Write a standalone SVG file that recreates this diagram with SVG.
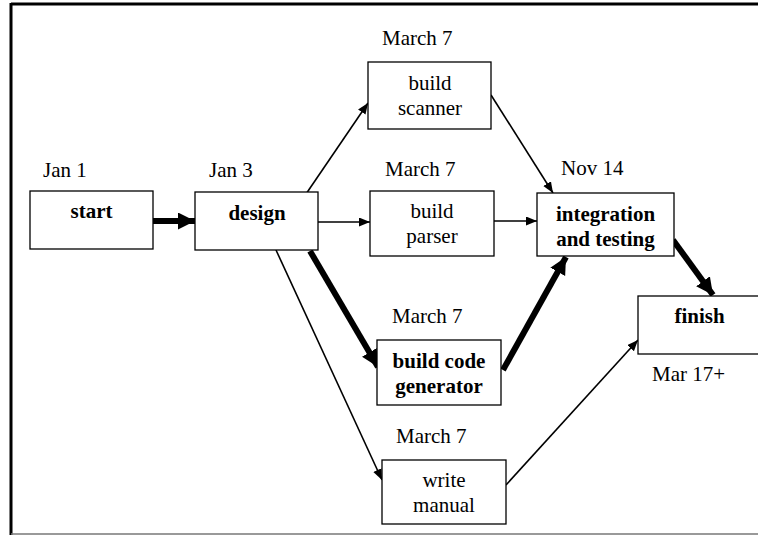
<svg xmlns="http://www.w3.org/2000/svg" width="758" height="535" viewBox="0 0 758 535">
<style>
.box{fill:#fff;stroke:#000;stroke-width:1.3}
text{font-family:'Liberation Serif','Tinos','Times New Roman','DejaVu Serif',serif;font-size:21px;fill:#000}
.c{text-anchor:middle}
.b{font-weight:bold}
.thin{stroke:#000;stroke-width:1.6;fill:none;marker-end:url(#ah)}
.thick{stroke:#000;stroke-width:6;fill:none;marker-end:url(#ahb)}
</style>
<defs>
<marker id="ah" markerUnits="userSpaceOnUse" markerWidth="12" markerHeight="10" refX="11" refY="4.5" orient="auto">
<path d="M0,0 L11,4.5 L0,9 z" fill="#000"/>
</marker>
<marker id="ahb" markerUnits="userSpaceOnUse" markerWidth="18" markerHeight="18" refX="17" refY="8.5" orient="auto">
<path d="M0,0 L17,8.5 L0,17 z" fill="#000"/>
</marker>
</defs>
<rect width="758" height="535" fill="#fff"/>
<g id="frame">
<line x1="11" y1="4" x2="758" y2="4" stroke="#000" stroke-width="3"/>
<line x1="11" y1="3" x2="11" y2="535" stroke="#000" stroke-width="3"/>
<line x1="11" y1="534" x2="758" y2="534" stroke="#777" stroke-width="1.5"/>
</g>
<g id="connectors">
<line class="thick" x1="153" y1="221" x2="195" y2="221"/>
<line class="thin" x1="306" y1="194" x2="368" y2="103"/>
<line class="thin" x1="318" y1="222" x2="370" y2="222"/>
<line class="thick" x1="310" y1="251" x2="378" y2="367"/>
<line class="thin" x1="276" y1="250" x2="382" y2="480"/>
<line class="thin" x1="491" y1="95" x2="553" y2="193"/>
<line class="thin" x1="494" y1="221" x2="537" y2="221"/>
<line class="thick" x1="503" y1="370" x2="566" y2="257"/>
<line class="thick" x1="673" y1="240" x2="713" y2="295"/>
<line class="thin" x1="506" y1="485" x2="638" y2="340"/>
</g>
<g id="start" font-family="Liberation Serif, serif">
<rect class="box" x="30" y="191" width="123" height="58"/>
<text x="43" y="177">Jan 1</text>
<text class="c b" x="91.5" y="218">start</text>
</g>
<g id="design">
<rect class="box" x="195" y="192" width="123" height="58"/>
<text x="209" y="177">Jan 3</text>
<text class="c b" x="257" y="220">design</text>
</g>
<g id="scanner">
<rect class="box" x="368" y="62" width="123" height="67"/>
<text x="382" y="45">March 7</text>
<text class="c" x="430" y="90">build</text>
<text class="c" x="430" y="115">scanner</text>
</g>
<g id="parser">
<rect class="box" x="370" y="191" width="124" height="65"/>
<text x="385" y="176">March 7</text>
<text class="c" x="432" y="218">build</text>
<text class="c" x="432" y="243">parser</text>
</g>
<g id="integration">
<rect class="box" x="537" y="193" width="137" height="63"/>
<text x="561" y="175">Nov 14</text>
<text class="c b" x="605.5" y="221">integration</text>
<text class="c b" x="605.5" y="246">and testing</text>
</g>
<g id="codegen">
<rect class="box" x="377" y="340" width="124" height="65"/>
<text x="392" y="323">March 7</text>
<text class="c b" x="439" y="368">build code</text>
<text class="c b" x="439" y="393">generator</text>
</g>
<g id="manual">
<rect class="box" x="382" y="460" width="124" height="64"/>
<text x="396" y="443">March 7</text>
<text class="c" x="444" y="487">write</text>
<text class="c" x="444" y="512">manual</text>
</g>
<g id="finish">
<rect class="box" x="638" y="296" width="140" height="58"/>
<text class="c b" x="699.5" y="323">finish</text>
<text x="652" y="381">Mar 17+</text>
</g>
</svg>
